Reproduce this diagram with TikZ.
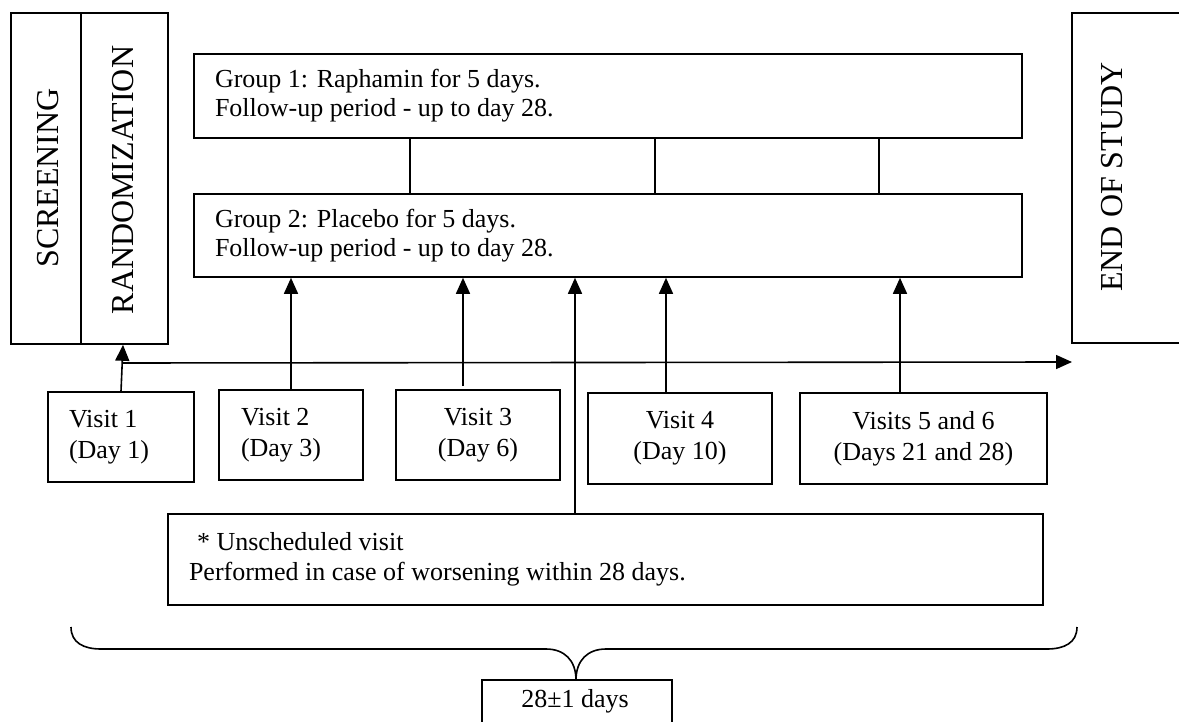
\documentclass[tikz,border=0pt]{standalone}
\usepackage{fontspec}
\setmainfont{Liberation Serif}
\usetikzlibrary{arrows.meta,calc}
\begin{document}
\begin{tikzpicture}[x=0.5pt,y=-0.5pt, line width=0.8pt,
  box/.style={draw, line width=0.8pt, inner sep=0pt},
  vtext/.style={rotate=90, font=\fontsize{16}{19}\selectfont, inner sep=0pt},
  grp/.style={align=left, font=\fontsize{13}{14.5}\selectfont, inner sep=0pt},
  vis/.style={font=\fontsize{13}{15.5}\selectfont, inner sep=0pt},
  arr/.style={-{Triangle[length=8pt,width=7pt]}}]
\useasboundingbox (0,0) rectangle (1179,722);
\clip (0,0) rectangle (1179,722);

% left boxes
\node[box, minimum width=35pt, minimum height=165.5pt] (scr) at (46,178.5) {};
\node[vtext] (scrt) at (48,178) {SCREENING};
\node[box, minimum width=43.5pt, minimum height=165.5pt] (rand) at (124.5,178.5) {};
\node[vtext] (randt) at (123,180) {RANDOMIZATION};

% end of study
\node[box, minimum width=64pt, minimum height=165pt] (eos) at (1136,178) {};
\node[vtext] (eost) at (1112,177) {END OF STUDY};

% groups
\node[box, minimum width=414pt, minimum height=42pt] (g1) at (608,96) {};
\node[grp, anchor=west] (g1t) at ($(g1.west)+(21,0)$) {Group 1: Raphamin for 5 days.\\Follow-up period - up to day 28.};
\node[box, minimum width=414pt, minimum height=41.5pt] (g2) at (608,235.5) {};
\node[grp, anchor=west] (g2t) at ($(g2.west)+(21,0)$) {Group 2: Placebo for 5 days.\\Follow-up period - up to day 28.};

\draw ($(g1.south)+(-198,0)$) -- ($(g2.north)+(-198,0)$);
\draw ($(g1.south)+(47,0)$) -- ($(g2.north)+(47,0)$);
\draw ($(g1.south)+(271,0)$) -- ($(g2.north)+(271,0)$);

% visits
\node[box, minimum width=73pt, minimum height=45pt] (v1) at (121,437) {};
\node[vis, align=left, anchor=west] (v1t) at ($(v1.west)+(21,0)$) {Visit 1\\(Day 1)};
\node[box, minimum width=72pt, minimum height=45pt] (v2) at (291,435) {};
\node[vis, align=left, anchor=west] (v2t) at ($(v2.west)+(22,0)$) {Visit 2\\(Day 3)};
\node[box, minimum width=82pt, minimum height=45pt] (v3) at (478,435) {};
\node[vis, align=center] (v3t) at (v3) {Visit 3\\(Day 6)};
\node[box, minimum width=92pt, minimum height=45.5pt] (v4) at (680,438.5) {};
\node[vis, align=center] (v4t) at (v4) {Visit 4\\(Day 10)};
\node[box, minimum width=123.5pt, minimum height=45.5pt] (v56) at (923.5,438.5) {};
\node[vis, align=center] (v56t) at (v56) {Visits 5 and 6\\(Days 21 and 28)};

% unscheduled
\node[box, minimum width=437.5pt, minimum height=45.5pt] (uns) at (605.5,559.5) {};
\node[vis, align=left, anchor=west] (unst) at ($(uns.west)+(21,0)$) {\hspace*{4pt}* Unscheduled visit\\[-0.5pt]Performed in case of worsening within 28 days.};

% days box
\node[box, minimum width=95pt, minimum height=40pt] (days) at (577,720) {};
\node[vis] (dayst) at ($(days.north)+(-2,22)$) {28±1 days};

% timeline
\coordinate (t0) at (122,363);
\coordinate (t1) at (1072,362);
\draw[arr] (t0) -- (t1);
\draw[arr] (v1.north) -- ($(rand.south)+(-1.5,0)$);

% visit arrows
\coordinate (a2) at (v2.north);
\coordinate (a3) at ($(v3.north)+(-15,-3)$);
\coordinate (a4) at ($(v4.north)+(-14,0)$);
\coordinate (a5) at ($(v56.north)+(-23.5,0)$);
\coordinate (au) at ($(uns.north)+(-30.5,0)$);
\draw[arr] (a2) -- (a2 |- g2.south);
\draw[arr] (a3) -- (a3 |- g2.south);
\draw[arr] (a4) -- (a4 |- g2.south);
\draw[arr] (a5) -- (a5 |- g2.south);
\draw[arr] (au) -- (au |- g2.south);

% brace
\coordinate (bl) at (71,627);
\coordinate (bt) at (576,680);
\coordinate (br) at (1077,627);
\draw (bl) .. controls (71,643) and (84,649) .. (101,649) -- (546,649)
  .. controls (564,649) and (576,660) .. (bt)
  .. controls (576,660) and (588,649) .. (606,649) -- (1047,649)
  .. controls (1064,649) and (1077,643) .. (br);
\end{tikzpicture}
\end{document}
